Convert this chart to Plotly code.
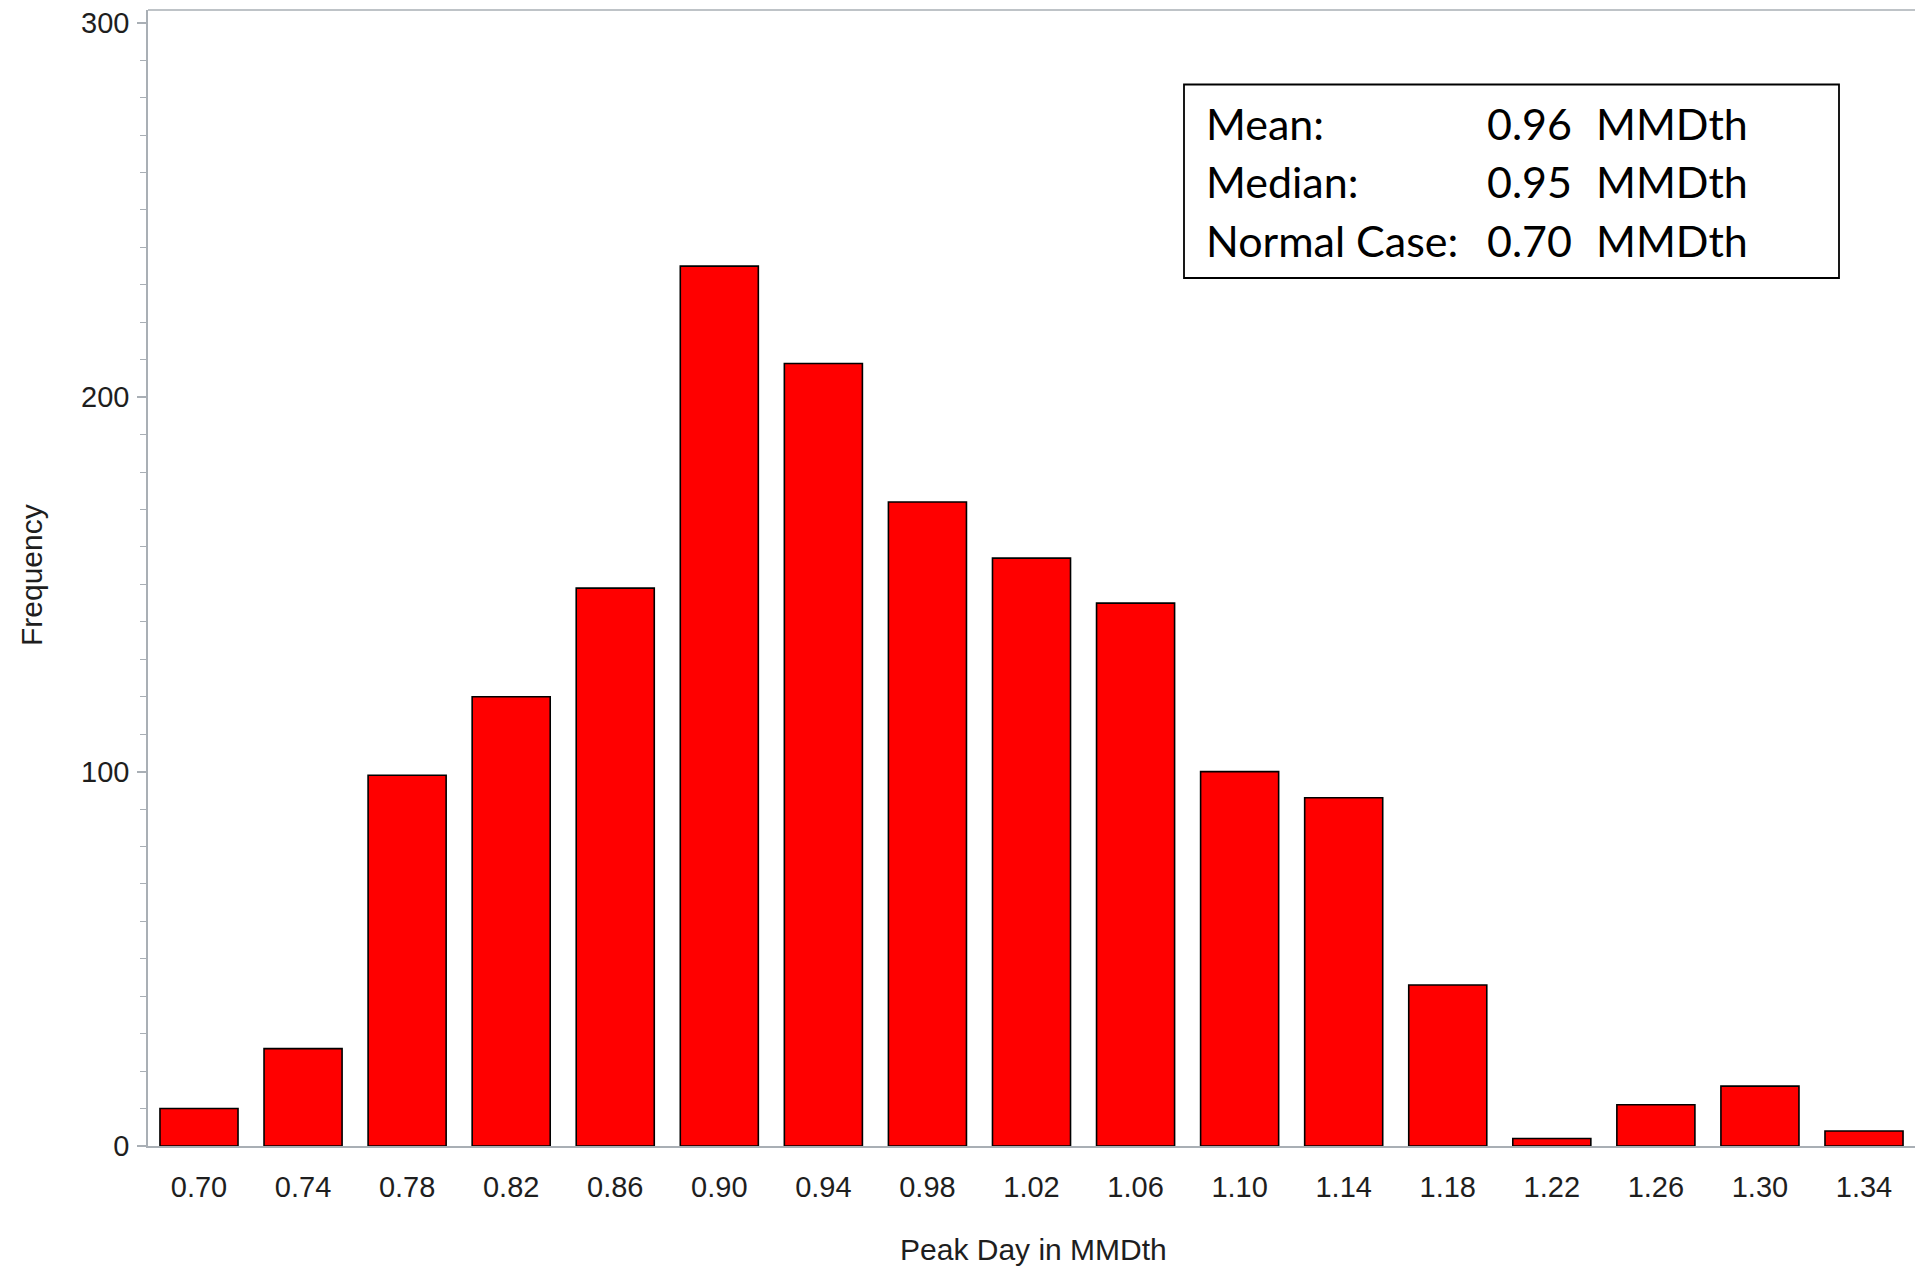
import plotly.graph_objects as go

# ---- data ----
categories = ["0.70", "0.74", "0.78", "0.82", "0.86", "0.90", "0.94", "0.98", "1.02",
              "1.06", "1.10", "1.14", "1.18", "1.22", "1.26", "1.30", "1.34"]
frequency = [10, 26, 99, 120, 149, 235, 209, 172, 157, 145, 100, 93, 43, 2, 11, 16, 4]

y_tick_values = [0, 100, 200, 300]

stat_labels = ["Mean:", "Median:", "Normal Case:"]
stat_values = ["0.96", "0.95", "0.70"]
stat_units = ["MMDth", "MMDth", "MMDth"]

x_title = "Peak Day in MMDth"
y_title = "Frequency"

# ---- layout geometry (pixels) ----
W, H = 1915, 1267
L, R, T, B = 148, 0, 10, 121
PW = W - L - R
PH = H - T - B


def px_x(px):
    return (px - L) / PW


def px_y(py):
    return (H - B - py) / PH


axis_grey = "#a9afb5"
tick_font = dict(family="Liberation Sans, Arial, sans-serif", size=29, color="#1e1e1e")

fig = go.Figure()
fig.add_trace(go.Bar(
    x=categories,
    y=frequency,
    marker=dict(color="#ff0000", line=dict(color="#000000", width=1.6)),
    hoverinfo="x+y",
))

fig.update_layout(
    width=W, height=H,
    margin=dict(l=L, r=R, t=T, b=B, pad=0),
    paper_bgcolor="white",
    plot_bgcolor="white",
    bargap=0.25,
    showlegend=False,
)

fig.update_xaxes(
    type="category",
    range=[-0.49, 16.49],
    showline=True, linecolor=axis_grey, linewidth=1.6,
    ticks="", showgrid=False, zeroline=False,
    tickfont=tick_font,
    ticklabelstandoff=14,
    automargin=False,
)

fig.update_yaxes(
    range=[0, 303.4],
    tickvals=y_tick_values,
    ticks="outside", ticklen=9, tickwidth=1.6, tickcolor=axis_grey,
    minor=dict(dtick=10, ticks="outside", ticklen=6, tickwidth=1.4, tickcolor=axis_grey, showgrid=False),
    showline=True, linecolor=axis_grey, linewidth=1.6,
    showgrid=False, zeroline=False,
    tickfont=tick_font,
    ticklabelstandoff=2,
    automargin=False,
)

# top border of plot frame
fig.add_shape(type="line", xref="paper", yref="paper", x0=0, x1=1, y0=1, y1=1,
              line=dict(color=axis_grey, width=1.6))

# statistics box
fig.add_shape(type="rect", xref="paper", yref="paper",
              x0=px_x(1184), x1=px_x(1839), y0=px_y(278), y1=px_y(84.5),
              line=dict(color="#000000", width=1.8), fillcolor="white")

box_font = dict(family="Lato, Carlito, Calibri, sans-serif", size=43, color="#000000")
row_centers = [123, 181.5, 240]
for i in range(len(stat_labels)):
    yy = px_y(row_centers[i])
    fig.add_annotation(xref="paper", yref="paper", x=px_x(1204), y=yy,
                       text=stat_labels[i], showarrow=False, xanchor="left", yanchor="middle",
                       font=box_font)
    fig.add_annotation(xref="paper", yref="paper", x=px_x(1485), y=yy,
                       text=stat_values[i], showarrow=False, xanchor="left", yanchor="middle",
                       font=box_font)
    fig.add_annotation(xref="paper", yref="paper", x=px_x(1594), y=yy,
                       text=stat_units[i], showarrow=False, xanchor="left", yanchor="middle",
                       font=box_font)

title_font = dict(family="Liberation Sans, Arial, sans-serif", size=30, color="#1e1e1e")
fig.add_annotation(xref="paper", yref="paper", x=px_x(31), y=px_y(575),
                   text=y_title, textangle=-90, showarrow=False,
                   xanchor="center", yanchor="middle", font=title_font)
fig.add_annotation(xref="paper", yref="paper", x=px_x(1033), y=px_y(1249),
                   text=x_title, showarrow=False,
                   xanchor="center", yanchor="middle", font=title_font)

fig.write_html("out.html", config={"displayModeBar": False},
               post_script="document.body.style.margin='0';document.body.style.overflow='hidden';")
